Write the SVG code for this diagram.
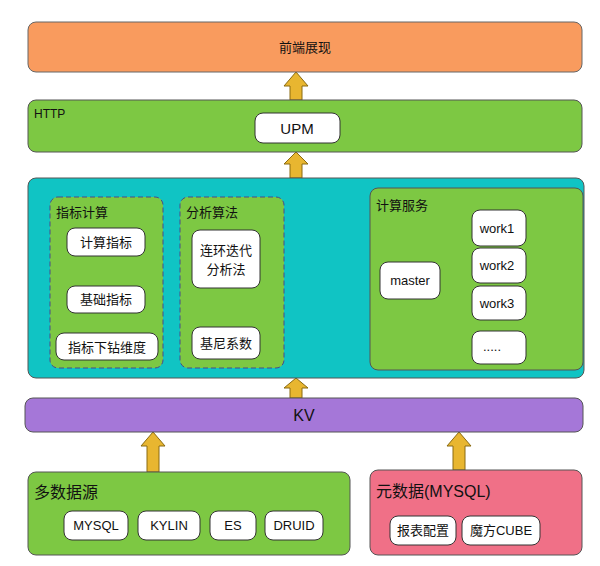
<svg xmlns="http://www.w3.org/2000/svg" width="600" height="566" viewBox="0 0 600 566">
<style>
text{font-family:"Liberation Sans","Noto Sans CJK SC",sans-serif;fill:#111}
.g{fill:#7DC843;stroke:#555;stroke-width:1}
.w{fill:#fff;stroke:#333;stroke-width:1}
.d{fill:#7DC843;stroke:#4a4a8a;stroke-width:1;stroke-dasharray:5,3}
.ya{fill:#E8B630;stroke:#8a6a10;stroke-width:1}
.c{stroke:#111;stroke-width:1.2;fill:none;marker-end:url(#ah)}
.m{font-size:13px;text-anchor:middle}
</style>
<defs><marker id="ah" markerWidth="10" markerHeight="8" refX="9" refY="4" orient="auto" markerUnits="userSpaceOnUse"><path d="M0,0L10,4L0,8z" fill="#111"/></marker></defs>
<g id="connectors">
<path class="ya" d="M290,100V86H284L296,72L308,86H302V100Z"/>
<path class="ya" d="M290,178V164H284L296,152L308,164H302V178Z"/>
<path class="ya" d="M290,398V388H284L296,378L308,388H302V398Z"/>
<path class="ya" d="M147,472V446H141L153,432L165,446H159V472Z"/>
<path class="ya" d="M453,470V446H447L459,432L471,446H465V470Z"/>
<path class="ya" d="M286,285L300,276V281H356V276L370,285L356,294V289H300V294Z"/>
<path class="c" d="M145,242L192,249"/>
<path class="c" d="M145,294L192,270"/>
<path class="c" d="M158,347L192,345"/>
<path class="c" d="M104,256V284"/>
<path class="c" d="M104,313V331"/>
<path class="c" d="M440,270L472,241"/>
<path class="c" d="M440,280L472,272"/>
<path class="c" d="M440,288L472,300"/>
<path class="c" d="M440,296L475,332"/>
<text x="107" y="274" font-size="11">拆分</text>
<text x="111" y="327" font-size="11">维度下钻</text>
<text x="328" y="271" font-size="13" text-anchor="middle" style="fill:#E02020">任务拆分</text>
<text x="328" y="315" font-size="13" text-anchor="middle" style="fill:#E02020">结果数据返回</text>
</g>
<g id="frontend"><rect x="28" y="22" width="554" height="50" rx="8" fill="#F99B5E" stroke="#666"/><text class="m" x="305" y="52">前端展现</text></g>
<g id="http"><rect x="28" y="100" width="554" height="52" rx="8" class="g"/><text x="34" y="118" font-size="12">HTTP</text>
<rect x="255" y="113" width="85" height="30" rx="8" class="w"/><text x="297" y="134" font-size="15" text-anchor="middle">UPM</text></g>
<g id="compute"><rect x="28" y="178" width="556" height="200" rx="8" fill="#10C4C4" stroke="#555"/></g>
<g id="zbjs"><rect x="50" y="197" width="113" height="171" rx="8" class="d"/><text x="56" y="217" font-size="13">指标计算</text></g>
<g id="fxsf"><rect x="180" y="197" width="104" height="171" rx="8" class="d"/><text x="186" y="217" font-size="13">分析算法</text></g>
<g id="jsfw"><rect x="370" y="188" width="213" height="182" rx="8" class="g"/><text x="376" y="210" font-size="13">计算服务</text></g>
<g id="n1"><rect x="67" y="228" width="78" height="28" rx="8" class="w"/><text class="m" x="106" y="247">计算指标</text></g>
<g id="n2"><rect x="67" y="286" width="78" height="27" rx="8" class="w"/><text class="m" x="106" y="304">基础指标</text></g>
<g id="n3"><rect x="56" y="333" width="102" height="27" rx="8" class="w"/><text class="m" x="107" y="352">指标下钻维度</text></g>
<g id="n4"><rect x="192" y="230" width="68" height="58" rx="8" class="w"/><text class="m" x="226" y="255">连环迭代</text><text class="m" x="226" y="274">分析法</text></g>
<g id="n5"><rect x="192" y="327" width="68" height="32" rx="8" class="w"/><text class="m" x="226" y="348">基尼系数</text></g>
<g id="master"><rect x="380" y="262" width="60" height="37" rx="8" class="w"/><text class="m" x="410" y="285">master</text></g>
<g id="w1"><rect x="472" y="210" width="54" height="36" rx="8" class="w"/><text class="m" x="497" y="233">work1</text></g>
<g id="w2"><rect x="472" y="248" width="54" height="35" rx="8" class="w"/><text class="m" x="497" y="270">work2</text></g>
<g id="w3"><rect x="472" y="286" width="54" height="34" rx="8" class="w"/><text class="m" x="497" y="308">work3</text></g>
<g id="w4"><rect x="472" y="331" width="54" height="33" rx="8" class="w"/><text class="m" x="492" y="351">.....</text></g>
<g id="kv"><rect x="25" y="398" width="558" height="34" rx="8" fill="#A577D8" stroke="#555"/><text x="304" y="421" font-size="16" text-anchor="middle">KV</text></g>
<g id="sources"><rect x="28" y="472" width="322" height="83" rx="8" class="g"/><text x="34" y="498" font-size="16">多数据源</text>
<rect x="64" y="511" width="64" height="29" rx="8" class="w"/><text class="m" x="96" y="530" font-size="12">MYSQL</text>
<rect x="138" y="511" width="62" height="29" rx="8" class="w"/><text class="m" x="169" y="530" font-size="12">KYLIN</text>
<rect x="210" y="511" width="46" height="29" rx="8" class="w"/><text class="m" x="233" y="530" font-size="12">ES</text>
<rect x="265" y="511" width="58" height="29" rx="8" class="w"/><text class="m" x="294" y="530" font-size="12">DRUID</text></g>
<g id="meta"><rect x="370" y="470" width="212" height="85" rx="8" fill="#F07087" stroke="#555"/><text x="376" y="497" font-size="16">元数据(MYSQL)</text>
<rect x="390" y="516" width="66" height="29" rx="8" class="w"/><text class="m" x="423" y="535" font-size="12">报表配置</text>
<rect x="462" y="516" width="78" height="29" rx="8" class="w"/><text class="m" x="501" y="535" font-size="12">魔方CUBE</text></g>
</svg>
